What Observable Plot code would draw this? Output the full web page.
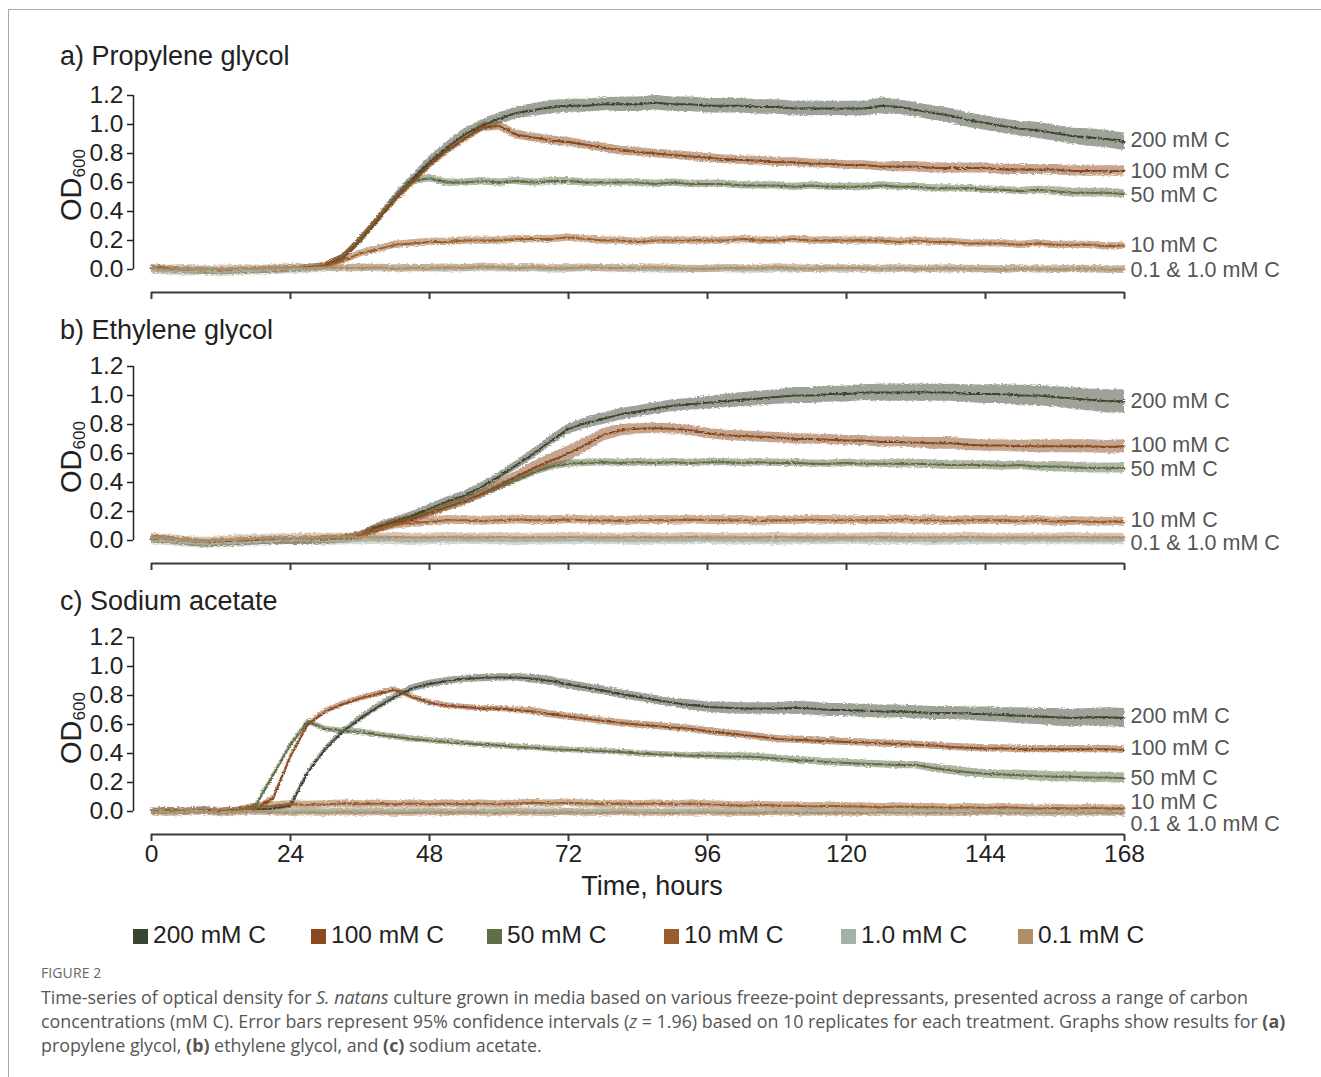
<!DOCTYPE html>
<html><head><meta charset="utf-8">
<script src="https://cdn.jsdelivr.net/npm/d3@7"></script>
<script src="https://cdn.jsdelivr.net/npm/@observablehq/plot@0.6"></script>
<style>
body{margin:0;background:#fff;}
#fig{position:relative;width:1321px;height:1077px;overflow:hidden;font-family:"Liberation Sans",Arial,sans-serif;color:#222;background:#fff;}
#frame{position:absolute;left:8px;top:9px;width:1400px;height:1200px;border-left:1px solid #a8a8a8;border-top:1px solid #a8a8a8;}
.panel{position:absolute;left:0;}
.title{position:absolute;left:60px;font-size:27px;line-height:30px;white-space:nowrap;}
.ylab{position:absolute;width:120px;height:34px;line-height:34px;text-align:center;font-size:29px;transform:rotate(-90deg);white-space:nowrap;}
.ylab sub{font-size:17px;vertical-align:-4px;line-height:0;}
#xlab{position:absolute;left:552px;width:200px;text-align:center;top:870px;font-size:27px;line-height:32px;}
.leg{position:absolute;top:921px;height:28px;line-height:28px;font-size:24.5px;white-space:nowrap;}
.leg i{display:inline-block;width:15px;height:15px;margin-right:5px;vertical-align:-1px;}
#figno{position:absolute;left:41px;top:963px;font-family:"Open Sans",sans-serif;font-size:14px;color:#666;letter-spacing:0.1px;}
#cap{position:absolute;left:41px;top:985px;font-family:"Open Sans",sans-serif;font-size:17.85px;line-height:24px;color:#555;white-space:nowrap;}
</style></head><body>
<div id="fig">
<div id="frame"></div>
<div class="title" style="top:41px">a) Propylene glycol</div>
<div class="title" style="top:315px">b) Ethylene glycol</div>
<div class="title" style="top:586px">c) Sodium acetate</div>
<div class="ylab" style="left:11px;top:168px">OD<sub>600</sub></div>
<div class="ylab" style="left:11px;top:440px">OD<sub>600</sub></div>
<div class="ylab" style="left:11px;top:711px">OD<sub>600</sub></div>
<div id="pa" class="panel" style="top:80px"></div>
<div id="pb" class="panel" style="top:351px"></div>
<div id="pc" class="panel" style="top:622px"></div>
<div id="xlab">Time, hours</div>
<div id="legend"></div>
<div id="figno">FIGURE 2</div>
<div id="cap">Time-series of optical density for <i>S. natans</i> culture grown in media based on various freeze-point depressants, presented across a range of carbon<br>concentrations (mM C). Error bars represent 95% confidence intervals (<i>z</i> = 1.96) based on 10 replicates for each treatment. Graphs show results for <b>(a)</b><br>propylene glycol, <b>(b)</b> ethylene glycol, and <b>(c)</b> sodium acetate.</div>
</div>
<script>
// ---------------- DATA ----------------
const concentrations = ["200 mM C","100 mM C","50 mM C","10 mM C","1.0 mM C","0.1 mM C"];
const hours = [0,3,6,9,12,15,18,21,24,27,30,33,36,39,42,45,48,51,54,57,60,63,66,69,72,75,78,81,84,87,90,93,96,99,102,105,108,111,114,117,120,123,126,129,132,135,138,141,144,147,150,153,156,159,162,165,168];
const xTicks = [0,24,48,72,96,120,144,168];
const yTicks = [0,0.2,0.4,0.6,0.8,1.0,1.2];
const endLabels = ["200 mM C","100 mM C","50 mM C","10 mM C","0.1 & 1.0 mM C"];

// a) Propylene glycol — mean OD600
const pg_200 = [0.01,0.00,-0.01,-0.01,-0.015,-0.01,-0.01,-0.005,0.00,0.01,
0.025,0.08,0.20,0.34,0.49,0.62,0.74,0.84,0.93,0.99,
1.04,1.08,1.10,1.12,1.13,1.13,1.14,1.14,1.14,1.15,
1.14,1.14,1.13,1.13,1.13,1.12,1.12,1.11,1.11,1.11,
1.11,1.11,1.13,1.12,1.10,1.08,1.06,1.03,1.01,0.99,
0.97,0.96,0.94,0.92,0.91,0.90,0.88];
const pg_100 = [0.01,0.005,-0.005,-0.01,-0.01,-0.005,-0.005,0.00,0.005,0.015,
0.03,0.08,0.20,0.34,0.48,0.60,0.72,0.82,0.90,0.98,
0.99,0.93,0.91,0.89,0.88,0.86,0.84,0.82,0.81,0.80,
0.79,0.78,0.77,0.76,0.755,0.75,0.74,0.74,0.73,0.73,
0.72,0.72,0.71,0.71,0.71,0.70,0.70,0.70,0.70,0.69,
0.69,0.69,0.69,0.68,0.68,0.68,0.68];
const pg_50 = [0.01,0.00,-0.01,-0.01,-0.015,-0.01,-0.005,0.00,0.005,0.01,
0.025,0.08,0.20,0.34,0.49,0.61,0.63,0.60,0.60,0.61,
0.60,0.61,0.60,0.61,0.61,0.60,0.60,0.60,0.60,0.59,
0.60,0.59,0.59,0.59,0.58,0.58,0.58,0.57,0.58,0.57,
0.57,0.57,0.58,0.57,0.57,0.56,0.56,0.56,0.55,0.55,
0.54,0.55,0.54,0.53,0.53,0.53,0.52];
const pg_10 = [0.01,0.00,-0.01,-0.01,-0.01,-0.01,-0.005,0.00,0.005,0.01,
0.02,0.06,0.11,0.14,0.17,0.18,0.19,0.19,0.20,0.20,
0.20,0.21,0.21,0.21,0.22,0.21,0.20,0.20,0.19,0.20,
0.20,0.20,0.20,0.20,0.21,0.20,0.20,0.21,0.20,0.20,
0.20,0.20,0.20,0.19,0.20,0.19,0.19,0.18,0.18,0.18,
0.17,0.18,0.17,0.17,0.17,0.16,0.165];
const pg_1 = [0.00,-0.01,-0.015,-0.01,-0.02,-0.01,-0.01,-0.005,0.00,0.005,
0.01,0.01,0.015,0.01,0.01,0.01,0.01,0.005,0.01,0.01,
0.01,0.005,0.01,0.00,0.005,0.01,0.01,0.005,0.005,0.00,
0.00,0.00,0.005,0.005,0.00,0.00,0.005,0.00,0.005,0.005,
0.00,0.005,0.00,0.005,0.00,0.005,0.00,0.005,0.00,0.00,
0.005,0.00,0.00,0.005,0.00,0.00,0.00];
const pg_01 = [0.005,0.00,0.005,-0.005,0.00,0.005,0.00,0.005,0.01,0.01,
0.015,0.01,0.01,0.015,0.005,0.01,0.01,0.015,0.01,0.02,
0.015,0.01,0.015,0.01,0.01,0.015,0.01,0.01,0.01,0.015,
0.01,0.005,0.005,0.01,0.01,0.01,0.015,0.01,0.005,0.01,
0.01,0.01,0.005,0.01,0.005,0.005,0.01,0.005,0.005,0.00,
0.005,0.005,0.00,0.005,0.005,0.00,0.00];
// a) 95% CI half-widths
const pg_200_ci = [0.02,0.02,0.02,0.02,0.02,0.02,0.02,0.02,0.02,0.02,
0.02,0.025,0.03,0.03,0.035,0.035,0.04,0.04,0.04,0.04,
0.04,0.04,0.045,0.045,0.045,0.045,0.045,0.05,0.05,0.05,
0.05,0.05,0.05,0.05,0.05,0.05,0.05,0.05,0.05,0.05,
0.05,0.05,0.055,0.05,0.05,0.05,0.05,0.05,0.05,0.05,
0.05,0.055,0.055,0.055,0.06,0.06,0.06];
const pg_100_ci = [0.02,0.02,0.02,0.02,0.02,0.02,0.02,0.02,0.02,0.02,
0.02,0.025,0.025,0.025,0.03,0.03,0.03,0.03,0.03,0.03,
0.03,0.03,0.03,0.03,0.03,0.03,0.03,0.03,0.03,0.03,
0.03,0.03,0.03,0.03,0.03,0.03,0.03,0.03,0.03,0.03,
0.03,0.03,0.03,0.035,0.035,0.035,0.035,0.035,0.035,0.035,
0.035,0.035,0.035,0.035,0.035,0.035,0.035];
const pg_50_ci = [0.02,0.02,0.02,0.02,0.02,0.02,0.02,0.02,0.02,0.02,
0.02,0.025,0.025,0.025,0.025,0.025,0.025,0.025,0.025,0.025,
0.025,0.025,0.025,0.025,0.025,0.025,0.025,0.025,0.025,0.025,
0.025,0.025,0.025,0.025,0.025,0.025,0.025,0.025,0.025,0.025,
0.025,0.025,0.025,0.025,0.025,0.025,0.025,0.025,0.025,0.025,
0.025,0.025,0.03,0.03,0.03,0.03,0.03];
const pg_10_ci = [0.02,0.02,0.02,0.02,0.02,0.02,0.02,0.02,0.02,0.02,
0.025,0.025,0.025,0.025,0.025,0.025,0.025,0.025,0.025,0.025,
0.025,0.025,0.025,0.025,0.025,0.025,0.025,0.025,0.025,0.025,
0.025,0.025,0.025,0.025,0.025,0.025,0.025,0.025,0.025,0.025,
0.025,0.025,0.025,0.025,0.025,0.025,0.025,0.025,0.025,0.025,
0.025,0.025,0.025,0.025,0.025,0.025,0.025];
const pg_trace_ci = [0.03,0.03,0.03,0.03,0.03,0.03,0.03,0.03,0.03,0.03,
0.025,0.025,0.025,0.025,0.025,0.025,0.025,0.025,0.025,0.025,
0.025,0.025,0.025,0.025,0.025,0.025,0.025,0.025,0.025,0.025,
0.025,0.025,0.025,0.025,0.025,0.025,0.025,0.025,0.025,0.025,
0.025,0.025,0.025,0.025,0.025,0.025,0.025,0.025,0.025,0.025,
0.025,0.025,0.025,0.025,0.025,0.025,0.025];
const pg_label_y = [0.89,0.676,0.51,0.166,-0.007];

// b) Ethylene glycol — mean OD600
const eg_200 = [0.01,0.005,-0.01,-0.02,-0.015,-0.01,-0.005,0.00,0.00,0.00,
0.005,0.01,0.03,0.09,0.13,0.17,0.22,0.27,0.31,0.37,
0.44,0.52,0.60,0.69,0.77,0.81,0.84,0.87,0.89,0.91,
0.93,0.94,0.95,0.96,0.97,0.98,0.99,1.00,1.00,1.01,
1.01,1.02,1.02,1.02,1.02,1.02,1.02,1.01,1.01,1.01,
1.00,1.00,0.99,0.98,0.97,0.96,0.96];
const eg_100 = [0.01,0.005,-0.01,-0.02,-0.015,-0.01,-0.005,0.00,0.00,0.00,
0.005,0.01,0.03,0.08,0.12,0.15,0.19,0.23,0.27,0.32,
0.38,0.44,0.50,0.55,0.60,0.66,0.73,0.76,0.77,0.775,
0.77,0.76,0.74,0.725,0.72,0.715,0.71,0.70,0.70,0.695,
0.69,0.69,0.68,0.68,0.675,0.67,0.67,0.66,0.655,0.655,
0.65,0.65,0.65,0.65,0.65,0.645,0.65];
const eg_50 = [0.01,0.005,-0.01,-0.02,-0.015,-0.01,-0.005,0.00,0.00,0.00,
0.005,0.01,0.03,0.08,0.12,0.15,0.19,0.23,0.27,0.32,
0.37,0.42,0.47,0.51,0.53,0.535,0.54,0.535,0.54,0.535,
0.54,0.535,0.54,0.54,0.535,0.54,0.535,0.535,0.53,0.53,
0.535,0.53,0.53,0.53,0.53,0.525,0.52,0.52,0.52,0.515,
0.52,0.51,0.51,0.505,0.50,0.50,0.50];
const eg_10 = [0.01,0.005,-0.01,-0.02,-0.015,-0.01,-0.005,0.00,0.00,0.00,
0.005,0.01,0.03,0.08,0.11,0.12,0.13,0.14,0.14,0.135,
0.14,0.145,0.14,0.14,0.145,0.14,0.14,0.135,0.14,0.14,
0.14,0.145,0.14,0.14,0.14,0.135,0.14,0.14,0.145,0.14,
0.14,0.14,0.14,0.145,0.14,0.14,0.135,0.14,0.14,0.14,
0.135,0.14,0.13,0.135,0.13,0.13,0.13];
const eg_1 = [0.00,-0.005,-0.015,-0.025,-0.02,-0.015,-0.01,-0.005,0.00,0.00,
-0.005,0.00,0.00,0.005,0.00,-0.005,0.00,0.00,0.005,0.00,
0.00,-0.005,0.00,0.00,0.00,0.005,0.00,0.00,-0.005,0.00,
0.00,0.00,0.005,0.00,0.00,0.00,-0.005,0.00,0.00,0.00,
0.005,0.00,0.00,0.00,0.00,-0.005,0.00,0.00,0.00,0.00,
0.00,0.005,0.00,0.00,0.00,0.00,0.00];
const eg_01 = [0.02,0.01,0.00,-0.01,0.00,0.01,0.01,0.015,0.015,0.02,
0.02,0.02,0.025,0.02,0.025,0.02,0.02,0.025,0.02,0.02,
0.025,0.02,0.02,0.02,0.025,0.02,0.02,0.02,0.025,0.02,
0.02,0.025,0.02,0.02,0.02,0.02,0.025,0.02,0.02,0.02,
0.02,0.02,0.025,0.02,0.02,0.02,0.02,0.025,0.02,0.02,
0.02,0.02,0.02,0.025,0.02,0.02,0.02];
// b) 95% CI half-widths
const eg_200_ci = [0.025,0.025,0.025,0.025,0.025,0.025,0.025,0.025,0.025,0.025,
0.025,0.025,0.03,0.03,0.03,0.03,0.03,0.03,0.03,0.03,
0.03,0.03,0.035,0.035,0.035,0.04,0.04,0.04,0.04,0.04,
0.04,0.04,0.045,0.045,0.05,0.05,0.05,0.055,0.055,0.055,
0.055,0.055,0.06,0.06,0.06,0.06,0.06,0.06,0.065,0.065,
0.07,0.07,0.07,0.075,0.075,0.08,0.08];
const eg_100_ci = [0.025,0.025,0.025,0.025,0.025,0.025,0.025,0.025,0.025,0.025,
0.025,0.025,0.025,0.03,0.03,0.03,0.03,0.03,0.03,0.03,
0.035,0.04,0.045,0.05,0.055,0.05,0.045,0.04,0.035,0.035,
0.035,0.035,0.035,0.035,0.035,0.035,0.035,0.035,0.035,0.035,
0.035,0.035,0.035,0.035,0.035,0.04,0.04,0.04,0.04,0.04,
0.04,0.045,0.045,0.045,0.045,0.045,0.045];
const eg_50_ci = [0.025,0.025,0.025,0.025,0.025,0.025,0.025,0.025,0.025,0.025,
0.025,0.025,0.025,0.025,0.025,0.025,0.025,0.025,0.025,0.025,
0.025,0.025,0.025,0.025,0.025,0.025,0.025,0.025,0.025,0.025,
0.025,0.025,0.025,0.025,0.025,0.025,0.025,0.025,0.025,0.025,
0.025,0.025,0.025,0.03,0.03,0.03,0.03,0.03,0.03,0.03,
0.03,0.03,0.035,0.035,0.035,0.035,0.035];
const eg_10_ci = [0.025,0.025,0.025,0.025,0.025,0.025,0.025,0.025,0.025,0.025,
0.03,0.03,0.03,0.03,0.03,0.03,0.03,0.03,0.03,0.03,
0.03,0.03,0.03,0.03,0.03,0.03,0.03,0.03,0.03,0.03,
0.03,0.03,0.03,0.03,0.03,0.03,0.03,0.03,0.03,0.03,
0.03,0.03,0.03,0.03,0.03,0.03,0.03,0.03,0.03,0.03,
0.03,0.03,0.03,0.03,0.03,0.03,0.03];
const eg_trace_ci = [0.03,0.03,0.03,0.03,0.03,0.03,0.03,0.03,0.03,0.03,
0.03,0.03,0.03,0.03,0.03,0.03,0.03,0.03,0.03,0.03,
0.03,0.03,0.03,0.03,0.03,0.03,0.03,0.03,0.03,0.03,
0.03,0.03,0.03,0.03,0.03,0.03,0.03,0.03,0.03,0.03,
0.03,0.03,0.03,0.03,0.03,0.03,0.03,0.03,0.03,0.03,
0.03,0.03,0.03,0.03,0.03,0.03,0.03];
const eg_label_y = [0.96,0.655,0.49,0.14,-0.015];

// c) Sodium acetate — mean OD600
const sa_200 = [0.00,0.005,0.00,0.01,0.00,0.01,0.015,0.02,0.04,0.27,
0.43,0.55,0.64,0.72,0.79,0.85,0.88,0.90,0.915,0.92,
0.925,0.925,0.915,0.90,0.875,0.855,0.835,0.81,0.79,0.77,
0.75,0.735,0.72,0.715,0.71,0.71,0.71,0.715,0.71,0.70,
0.70,0.695,0.69,0.69,0.685,0.68,0.68,0.675,0.67,0.665,
0.66,0.655,0.65,0.645,0.65,0.65,0.645];
const sa_100 = [0.00,0.005,0.00,0.01,0.00,0.01,0.02,0.09,0.38,0.60,
0.69,0.74,0.78,0.81,0.84,0.79,0.75,0.73,0.72,0.71,
0.71,0.70,0.69,0.67,0.655,0.64,0.625,0.61,0.60,0.59,
0.58,0.57,0.555,0.54,0.53,0.515,0.50,0.495,0.49,0.485,
0.48,0.475,0.47,0.465,0.46,0.455,0.445,0.44,0.435,0.435,
0.43,0.43,0.43,0.43,0.43,0.43,0.425];
const sa_50 = [0.00,0.005,0.00,0.01,0.00,0.01,0.04,0.25,0.46,0.62,
0.57,0.555,0.55,0.53,0.515,0.50,0.49,0.48,0.47,0.46,
0.455,0.445,0.44,0.43,0.425,0.42,0.415,0.41,0.40,0.395,
0.39,0.385,0.385,0.38,0.38,0.375,0.365,0.355,0.35,0.34,
0.335,0.33,0.325,0.32,0.32,0.30,0.285,0.27,0.26,0.255,
0.25,0.245,0.24,0.24,0.235,0.235,0.23];
const sa_10 = [0.00,0.005,0.00,0.01,0.00,0.01,0.03,0.04,0.05,0.045,
0.05,0.055,0.05,0.055,0.05,0.055,0.05,0.055,0.05,0.055,
0.05,0.055,0.06,0.055,0.06,0.055,0.05,0.055,0.05,0.055,
0.05,0.055,0.05,0.045,0.04,0.045,0.04,0.04,0.035,0.04,
0.035,0.035,0.03,0.035,0.03,0.03,0.025,0.03,0.025,0.03,
0.025,0.02,0.025,0.02,0.025,0.02,0.02];
const sa_1 = [0.00,-0.005,0.00,0.005,-0.005,0.00,0.005,0.00,0.00,0.005,
0.00,0.00,0.005,0.00,0.00,0.005,0.00,0.00,0.00,0.005,
0.00,0.00,0.005,0.00,0.00,0.00,0.005,0.00,0.00,0.00,
0.00,0.005,0.00,0.00,0.00,-0.005,0.00,0.00,0.00,0.00,
0.00,-0.005,0.00,0.00,0.00,0.00,0.00,-0.005,0.00,0.00,
0.00,0.00,-0.005,0.00,0.00,0.00,0.00];
const sa_01 = [-0.005,-0.01,-0.005,0.00,-0.01,-0.005,0.00,-0.005,-0.01,-0.005,
-0.01,-0.005,-0.01,-0.005,-0.01,-0.01,-0.005,-0.01,-0.005,-0.01,
-0.01,-0.005,-0.01,-0.01,-0.005,-0.01,-0.01,-0.005,-0.01,-0.01,
-0.01,-0.01,-0.005,-0.01,-0.01,-0.01,-0.005,-0.01,-0.01,-0.01,
-0.01,-0.01,-0.005,-0.01,-0.01,-0.01,-0.01,-0.01,-0.005,-0.01,
-0.01,-0.01,-0.01,-0.01,-0.01,-0.01,-0.01];
// c) 95% CI half-widths
const sa_200_ci = [0.02,0.02,0.02,0.02,0.02,0.02,0.02,0.02,0.02,0.02,
0.02,0.02,0.025,0.025,0.025,0.025,0.025,0.025,0.025,0.025,
0.025,0.025,0.03,0.03,0.03,0.03,0.03,0.03,0.03,0.03,
0.03,0.035,0.035,0.04,0.04,0.04,0.04,0.045,0.045,0.045,
0.045,0.045,0.045,0.045,0.045,0.045,0.045,0.045,0.05,0.05,
0.055,0.055,0.06,0.06,0.06,0.065,0.065];
const sa_100_ci = [0.02,0.02,0.02,0.02,0.02,0.02,0.02,0.02,0.02,0.02,
0.02,0.02,0.02,0.02,0.02,0.02,0.02,0.02,0.02,0.02,
0.02,0.02,0.025,0.025,0.025,0.025,0.025,0.025,0.025,0.025,
0.025,0.025,0.025,0.025,0.025,0.025,0.025,0.025,0.025,0.025,
0.025,0.025,0.025,0.025,0.025,0.025,0.025,0.025,0.025,0.025,
0.025,0.025,0.025,0.025,0.025,0.025,0.025];
const sa_50_ci = [0.02,0.02,0.02,0.02,0.02,0.02,0.02,0.02,0.02,0.02,
0.02,0.02,0.02,0.02,0.02,0.02,0.02,0.02,0.02,0.02,
0.02,0.02,0.02,0.02,0.02,0.02,0.02,0.02,0.02,0.02,
0.02,0.02,0.025,0.025,0.025,0.025,0.025,0.025,0.025,0.025,
0.025,0.025,0.025,0.025,0.025,0.03,0.03,0.03,0.03,0.03,
0.035,0.035,0.035,0.035,0.035,0.035,0.035];
const sa_10_ci = [0.025,0.025,0.025,0.025,0.025,0.025,0.025,0.025,0.025,0.025,
0.025,0.025,0.025,0.025,0.025,0.025,0.025,0.025,0.025,0.025,
0.025,0.025,0.025,0.025,0.025,0.025,0.025,0.025,0.025,0.025,
0.025,0.025,0.025,0.025,0.025,0.025,0.025,0.025,0.025,0.025,
0.025,0.025,0.025,0.025,0.025,0.025,0.025,0.025,0.025,0.025,
0.025,0.025,0.025,0.025,0.025,0.025,0.025];
const sa_trace_ci = sa_10_ci;
const sa_label_y = [0.655,0.434,0.228,0.068,-0.086];

// ---------------- STYLE ----------------
const colors = ["#3b4631","#8a4a1d","#5e6e46","#9a5e2e","#a3b2a6","#b08e6a"];
const drawOrder = [0,2,1,3,4,5];

// ---------------- DRAW ----------------
function buildRows(means, cis) {
  const rows = [];
  drawOrder.forEach(i => {
    if (means[i].length !== hours.length || cis[i].length !== hours.length) throw new Error("length mismatch series " + i);
    hours.forEach((h, j) => rows.push({conc: concentrations[i], t: h, y: means[i][j], lo: means[i][j] - cis[i][j], hi: means[i][j] + cis[i][j]}));
  });
  return rows;
}

function panel(el, means, cis, labelY, showX) {
  const rows = buildRows(means, cis);
  const labels = endLabels.map((l, i) => ({label: l, y: labelY[i]}));
  const height = showX ? 300 : 240;
  const yMin = -23 / 145;
  const svg = Plot.plot({
    width: 1321, height,
    marginLeft: 151, marginRight: 197, marginTop: 15, marginBottom: height - 212,
    style: {fontFamily: "Liberation Sans, Arial, sans-serif", fontSize: "24px", color: "#222", background: "transparent", overflow: "visible"},
    x: {domain: [0, 168]},
    y: {domain: [yMin, 1.2]},
    color: {domain: concentrations, range: colors},
    marks: [
      Plot.areaY(rows, {x: "t", y1: "lo", y2: "hi", z: "conc", fill: "conc", fillOpacity: 0.5, curve: "linear"}),
      Plot.lineY(rows, {x: "t", y: "y", z: "conc", stroke: "conc", strokeWidth: 2}),
      Plot.ruleY([yMin], {stroke: "#3a3a3a", strokeWidth: 2}),
      Plot.axisX(xTicks, {tickSize: 7, tickPadding: 3, stroke: "#3a3a3a", strokeWidth: 2, fontSize: 24.5, fill: "#222", tickFormat: showX ? (d => String(d)) : (() => ""), label: null}),
      Plot.ruleX([0], {y1: 0, y2: 1.2, dx: -18, stroke: "#222", strokeWidth: 1.5}),
      Plot.axisY(yTicks, {anchor: "left", dx: -18, tickSize: 6, tickPadding: 4, strokeWidth: 1.5, fontSize: 24.5, fill: "#222", tickFormat: d => d.toFixed(1), label: null}),
      Plot.text(labels, {x: 168, y: "y", text: "label", dx: 6, textAnchor: "start", fontSize: 21.5, fill: "#555"})
    ]
  });
  // rough texture for noisy traces
  const ns = "http://www.w3.org/2000/svg";
  const defs = document.createElementNS(ns, "defs");
  const fid = "rough-" + el.id;
  defs.innerHTML = `<filter id="${fid}" filterUnits="userSpaceOnUse" x="0" y="0" width="1321" height="${height}">
    <feTurbulence type="fractalNoise" baseFrequency="0.35 0.9" numOctaves="2" seed="4" result="n"/>
    <feDisplacementMap in="SourceGraphic" in2="n" scale="3.5" xChannelSelector="R" yChannelSelector="G"/></filter>`;
  svg.insertBefore(defs, svg.firstChild);
  svg.querySelectorAll('g[aria-label="area"], g[aria-label="line"]').forEach(g => g.setAttribute("filter", `url(#${fid})`));
  el.appendChild(svg);
}

panel(document.getElementById("pa"), [pg_200, pg_100, pg_50, pg_10, pg_1, pg_01], [pg_200_ci, pg_100_ci, pg_50_ci, pg_10_ci, pg_trace_ci, pg_trace_ci], pg_label_y, false);
panel(document.getElementById("pb"), [eg_200, eg_100, eg_50, eg_10, eg_1, eg_01], [eg_200_ci, eg_100_ci, eg_50_ci, eg_10_ci, eg_trace_ci, eg_trace_ci], eg_label_y, false);
panel(document.getElementById("pc"), [sa_200, sa_100, sa_50, sa_10, sa_1, sa_01], [sa_200_ci, sa_100_ci, sa_50_ci, sa_10_ci, sa_trace_ci, sa_trace_ci], sa_label_y, true);

// legend
const legLeft = [133, 311, 487, 664, 841, 1018];
const legend = document.getElementById("legend");
concentrations.forEach((c, i) => {
  const d = document.createElement("div");
  d.className = "leg";
  d.style.left = legLeft[i] + "px";
  d.innerHTML = `<i style="background:${colors[i]}"></i>${c}`;
  legend.appendChild(d);
});
</script>
</body></html>
